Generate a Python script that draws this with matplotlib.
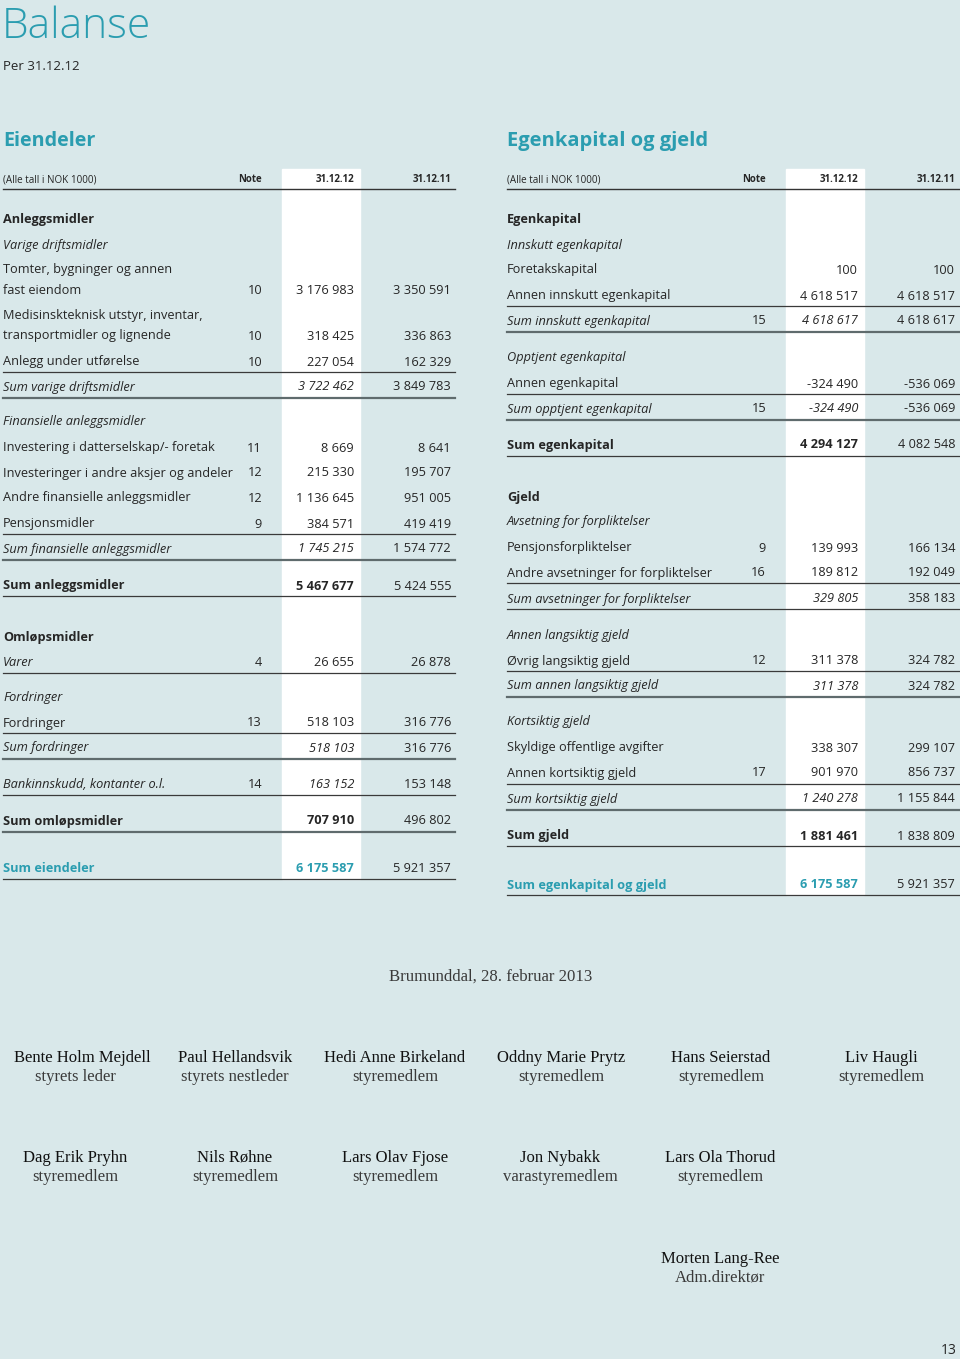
import matplotlib
matplotlib.use("Agg")
from matplotlib import pyplot as plt
from matplotlib.patches import Rectangle

# Eiendeler (venstre side)
eiendeler_tekst = ["Anleggsmidler", "Varige driftsmidler", "Tomter, bygninger og annen",
                   "fast eiendom", "Medisinskteknisk utstyr, inventar,",
                   "transportmidler og lignende", "Anlegg under utførelse",
                   "Sum varige driftsmidler", "Finansielle anleggsmidler",
                   "Investering i datterselskap/- foretak", "Investeringer i andre aksjer og andeler",
                   "Andre finansielle anleggsmidler", "Pensjonsmidler",
                   "Sum finansielle anleggsmidler", "Sum anleggsmidler", "Omløpsmidler",
                   "Varer", "Fordringer", "Fordringer", "Sum fordringer",
                   "Bankinnskudd, kontanter o.l.", "Sum omløpsmidler", "Sum eiendeler"]
eiendeler_note = [None, None, None, 10, None, 10, 10, None, None, 11, 12, 12, 9,
                  None, None, None, 4, None, 13, None, 14, None, None]
eiendeler_2012 = [None, None, None, 3176983, None, 318425, 227054, 3722462, None,
                  8669, 215330, 1136645, 384571, 1745215, 5467677, None,
                  26655, None, 518103, 518103, 163152, 707910, 6175587]
eiendeler_2011 = [None, None, None, 3350591, None, 336863, 162329, 3849783, None,
                  8641, 195707, 951005, 419419, 1574772, 5424555, None,
                  26878, None, 316776, 316776, 153148, 496802, 5921357]

# Egenkapital og gjeld (hoyre side)
gjeld_tekst = ["Egenkapital", "Innskutt egenkapital", "Foretakskapital",
               "Annen innskutt egenkapital", "Sum innskutt egenkapital",
               "Opptjent egenkapital", "Annen egenkapital", "Sum opptjent egenkapital",
               "Sum egenkapital", "Gjeld", "Avsetning for forpliktelser",
               "Pensjonsforpliktelser", "Andre avsetninger for forpliktelser",
               "Sum avsetninger for forpliktelser", "Annen langsiktig gjeld",
               "Øvrig langsiktig gjeld", "Sum annen langsiktig gjeld", "Kortsiktig gjeld",
               "Skyldige offentlige avgifter", "Annen kortsiktig gjeld",
               "Sum kortsiktig gjeld", "Sum gjeld", "Sum egenkapital og gjeld"]
gjeld_note = [None, None, None, None, 15, None, None, 15, None, None, None, 9, 16,
              None, None, 12, None, None, None, 17, None, None, None]
gjeld_2012 = [None, None, 100, 4618517, 4618617, None, -324490, -324490, 4294127,
              None, None, 139993, 189812, 329805, None, 311378, 311378, None,
              338307, 901970, 1240278, 1881461, 6175587]
gjeld_2011 = [None, None, 100, 4618517, 4618617, None, -536069, -536069, 4082548,
              None, None, 166134, 192049, 358183, None, 324782, 324782, None,
              299107, 856737, 1155844, 1838809, 5921357]

styret_navn = ["Bente Holm Mejdell", "Paul Hellandsvik", "Hedi Anne Birkeland",
               "Oddny Marie Prytz", "Hans Seierstad", "Liv Haugli",
               "Dag Erik Pryhn", "Nils Røhne", "Lars Olav Fjose", "Jon Nybakk",
               "Lars Ola Thorud", "Morten Lang-Ree"]
styret_rolle = ["styrets leder", "styrets nestleder", "styremedlem", "styremedlem",
                "styremedlem", "styremedlem", "styremedlem", "styremedlem",
                "styremedlem", "varastyremedlem", "styremedlem", "Adm.direktør"]

# layout
bg = "#d9e8ea"
teal = "#2b9db0"
ink = "#262626"
sans = ["Open Sans", "DejaVu Sans"]
serif = ["Liberation Serif", "DejaVu Serif"]

eiendeler_y = [219, 245, 270, 290, 316, 336, 362, 387, 422, 448, 473, 498, 524, 549,
               586, 637, 662, 697, 723, 748, 784, 821, 868]
eiendeler_stil = ["b", "i", "n", "n", "n", "n", "n", "si", "i", "n", "n", "n", "n", "si",
                  "sb", "b", "iv", "i", "n", "si", "si", "sb", "t"]
eiendeler_strek = [(372, 1), (398, 2), (534, 1), (560, 2), (596, 1), (673, 1),
                   (733, 1), (759, 2), (795, 1), (832, 2), (879, 1)]

gjeld_y = [219, 245, 270, 296, 321, 358, 384, 409, 445, 497, 522, 548, 573, 599,
           635, 661, 686, 722, 748, 773, 799, 836, 885]
gjeld_stil = ["b", "i", "n", "n", "si", "i", "n", "si", "sb", "b", "i", "n", "n", "si",
              "i", "n", "si", "i", "n", "n", "si", "sb", "t"]
gjeld_strek = [(306, 1), (332, 2), (394, 1), (420, 2), (456, 1), (583, 1), (609, 1),
               (671, 1), (697, 2), (784, 1), (810, 2), (846, 1), (895, 1)]


def fmt(v):
    if v is None:
        return ""
    return f"{v:,}".replace(",", " ")


def tabell(ax, x0, tittel, tekst, note, v12, v11, ys, stil, streker, hvit_bunn, tfs):
    bredde = 452
    ax.add_patch(Rectangle((x0 + 279, 169), 78, hvit_bunn - 169, color="white", zorder=0))
    ax.text(x0, 146, tittel, fontsize=tfs, fontweight="bold", color=teal,
            family=sans, va="baseline")
    ax.text(x0, 180, "(Alle tall i NOK 1000)", fontsize=7.1, color=ink, family=sans,
            va="center")
    ax.text(x0 + 259, 180, "Note", fontsize=7, fontweight="bold", color=ink, family=sans,
            va="center", ha="right")
    ax.text(x0 + 351, 180, "31.12.12", fontsize=7, fontweight="bold", color=ink,
            family=sans, va="center", ha="right")
    ax.text(x0 + 448, 180, "31.12.11", fontsize=7, fontweight="bold", color=ink,
            family=sans, va="center", ha="right")
    ax.plot([x0, x0 + bredde], [189, 189], color="#333333", lw=1)

    fs = 9.2
    for t, n, a, b, y, s in zip(tekst, note, v12, v11, ys, stil):
        farge = teal if s == "t" else ink
        vekt = "bold" if s in ("b", "sb", "t") else "normal"
        kursiv = "italic" if s in ("i", "si", "iv") else "normal"
        ax.text(x0, y, t, fontsize=fs, color=farge, fontweight=vekt, style=kursiv,
                family=sans, va="center")
        if n is not None:
            ax.text(x0 + 259, y, str(n), fontsize=fs, color=ink, family=sans,
                    va="center", ha="right")
        ax.text(x0 + 351, y, fmt(a), fontsize=fs, color=farge,
                fontweight="bold" if s in ("sb", "t") else "normal",
                style="italic" if s == "si" else "normal",
                family=sans, va="center", ha="right")
        ax.text(x0 + 448, y, fmt(b), fontsize=fs, color=ink, family=sans,
                va="center", ha="right")

    for y, tykk in streker:
        if tykk == 2:
            ax.plot([x0, x0 + bredde], [y, y], color="#5f6b6d", lw=1.6)
        else:
            ax.plot([x0, x0 + bredde], [y, y], color="#3a3a3a", lw=0.9)


fig = plt.figure(figsize=(9.6, 13.59), dpi=100)
fig.patch.set_facecolor(bg)
ax = fig.add_axes([0, 0, 1, 1])
ax.set_xlim(0, 960)
ax.set_ylim(1359, 0)
ax.axis("off")

ax.text(2, 38, "Balanse", fontsize=30.7, color=teal, family=sans, fontweight="light",
        va="baseline")
ax.text(3, 66, "Per 31.12.12", fontsize=9.5, color=ink, family=sans, va="center")

tabell(ax, 3, "Eiendeler", eiendeler_tekst, eiendeler_note, eiendeler_2012,
       eiendeler_2011, eiendeler_y, eiendeler_stil, eiendeler_strek, 879, 14.2)
tabell(ax, 507, "Egenkapital og gjeld", gjeld_tekst, gjeld_note, gjeld_2012,
       gjeld_2011, gjeld_y, gjeld_stil, gjeld_strek, 895, 14.5)

ax.text(491, 977, "Brumunddal, 28. februar 2013", fontsize=12.1, color="#3a3a3a",
        family=serif, ha="center", va="center")

sig_x = [82, 235, 395, 561, 721, 881, 75, 235, 395, 560, 720, 720]
rolle_x = [75, 235, 395, 561, 721, 881, 75, 235, 395, 560, 720, 720]
sig_y = [1058, 1058, 1058, 1058, 1058, 1058, 1158, 1158, 1158, 1158, 1158, 1259]
for navn, rolle, x, xr, y in zip(styret_navn, styret_rolle, sig_x, rolle_x, sig_y):
    ax.text(x, y, navn, fontsize=12, color="#111111", family=serif,
            ha="center", va="center")
    ax.text(xr, y + 19, rolle, fontsize=12, color="#3a3a3a", family=serif,
            ha="center", va="center")

ax.text(957, 1351, "13", fontsize=10, color=ink, family=sans, ha="right", va="center")

fig.savefig("out.png", dpi=100, facecolor=bg)
